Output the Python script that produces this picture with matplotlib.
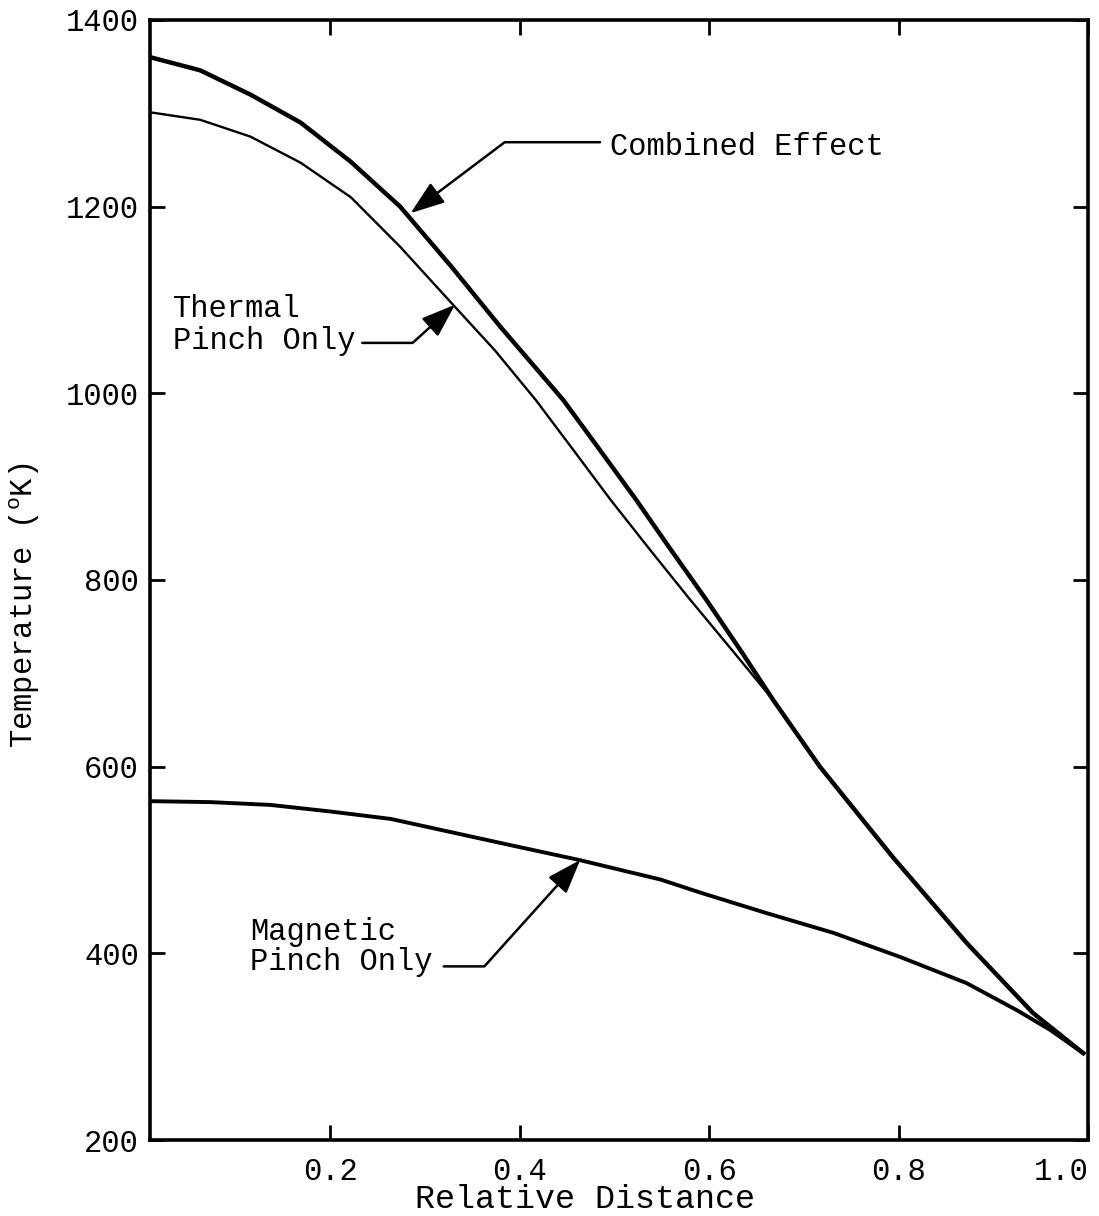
import matplotlib
matplotlib.use("Agg")
import matplotlib.pyplot as plt

plt.rcParams["font.family"] = ["Liberation Mono", "DejaVu Sans Mono"]

# Values
dist_combined = [0.0105, 0.063, 0.116, 0.169, 0.222, 0.274, 0.327, 0.380,
                 0.446, 0.485, 0.523, 0.560, 0.597, 0.633, 0.668, 0.717, 0.794,
                 0.872, 0.942, 0.995]
temp_combined = [1360, 1346, 1320, 1290, 1248, 1200, 1137, 1071,
                 993, 939, 886, 832, 779, 725, 671, 600, 503,
                 411, 336, 293]

dist_thermal = [0.0105, 0.063, 0.116, 0.169, 0.222, 0.274, 0.327, 0.374, 0.417,
                0.457, 0.496, 0.538, 0.580, 0.625, 0.668, 0.717, 0.794,
                0.872, 0.942, 0.995]
temp_thermal = [1301, 1293, 1275, 1247, 1210, 1157, 1098, 1046, 993,
                939, 886, 832, 779, 724, 671, 600, 503,
                411, 336, 293]

dist_magnetic = [0.0105, 0.074, 0.137, 0.200, 0.264, 0.327, 0.390, 0.463, 0.549,
                 0.591, 0.661, 0.731, 0.802, 0.872, 0.925, 0.960, 0.995]
temp_magnetic = [563, 562, 559, 552, 544, 530, 516, 500, 479,
                 465, 443, 422, 396, 368, 339, 318, 293]

x_ticks = [0.2, 0.4, 0.6, 0.8, 1.0]
x_tick_labels = ["0.2", "0.4", "0.6", "0.8", "1.0"]
y_ticks = [200, 400, 600, 800, 1000, 1200, 1400]

fig = plt.figure(figsize=(10.99, 12.16), dpi=100)
ax = fig.add_axes([0.1365, 0.0625, 0.99 - 0.1365, 0.9836 - 0.0625])

ax.plot(dist_thermal, temp_thermal, color="black", lw=1.7)
ax.plot(dist_magnetic, temp_magnetic, color="black", lw=2.8)
ax.plot(dist_combined, temp_combined, color="black", lw=3.2)

ax.set_xlim(0.01, 1.0)
ax.set_ylim(200, 1400)
ax.set_xticks(x_ticks)
ax.set_xticklabels(x_tick_labels)
ax.set_yticks(y_ticks)
# last x label sits inside the right edge, as in the original
ax.get_xticklabels()[-1].set_horizontalalignment("right")

for s in ax.spines.values():
    s.set_linewidth(2.6)
ax.tick_params(direction="in", length=11, width=2, labelsize=22,
               top=True, right=True)
ax.tick_params(axis="x", pad=12)
ax.tick_params(axis="y", pad=8)

ax.set_xlabel("Relative Distance", fontsize=24)
ax.xaxis.set_label_coords(0.464, -0.039)
ax.set_ylabel(r"Temperature ($\mathregular{^o}$K)", fontsize=22)
ax.yaxis.set_label_coords(-0.115, 0.477)

head = "-|>,head_length=0.7,head_width=0.25"

# Combined Effect
ax.text(0.495, 1255, "Combined Effect", fontsize=22, ha="left", va="baseline")
ax.annotate("", xy=(0.285, 1193), xytext=(0.485, 1269),
            arrowprops=dict(arrowstyle=head, color="black", lw=1.8,
                            mutation_scale=30, shrinkA=0, shrinkB=0,
                            connectionstyle="angle,angleA=0,angleB=37,rad=0"))

# Thermal Pinch Only
ax.text(0.034, 1082, "Thermal", fontsize=22, ha="left", va="baseline")
ax.text(0.034, 1047, "Pinch Only", fontsize=22, ha="left", va="baseline")
ax.annotate("", xy=(0.332, 1095), xytext=(0.234, 1054),
            arrowprops=dict(arrowstyle=head, color="black", lw=1.8,
                            mutation_scale=30, shrinkA=0, shrinkB=0,
                            connectionstyle="angle,angleA=0,angleB=42,rad=0"))

# Magnetic Pinch Only
ax.text(0.116, 414, "Magnetic", fontsize=22, ha="left", va="baseline")
ax.text(0.116, 382, "Pinch Only", fontsize=22, ha="left", va="baseline")
ax.annotate("", xy=(0.464, 500), xytext=(0.320, 386),
            arrowprops=dict(arrowstyle=head, color="black", lw=1.8,
                            mutation_scale=30, shrinkA=0, shrinkB=0,
                            connectionstyle="angle,angleA=0,angleB=48,rad=0"))

fig.savefig("out.png", dpi=100)
